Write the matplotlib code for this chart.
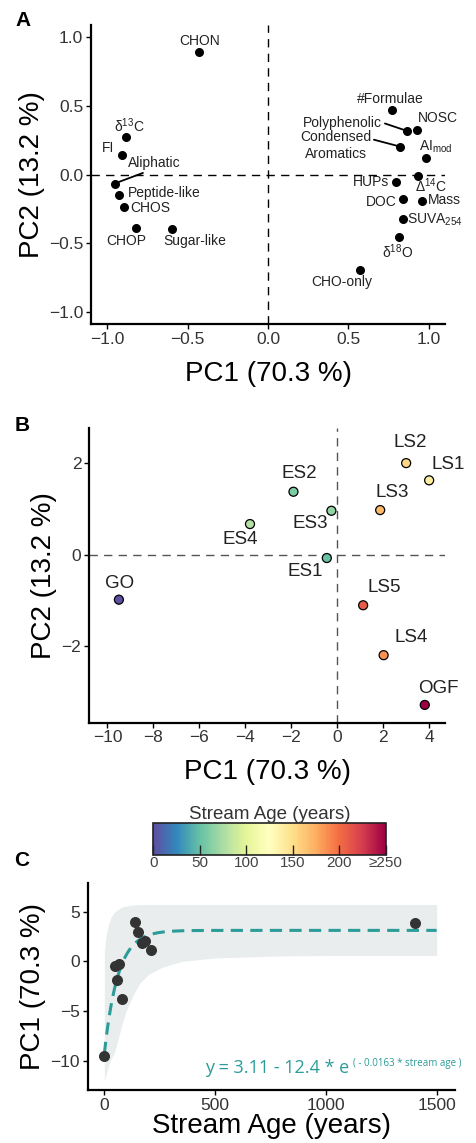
import numpy as np
import matplotlib
matplotlib.use("Agg")
import matplotlib.pyplot as plt
import matplotlib.colors as mcolors
import matplotlib.cm as cm

plt.rcParams['font.family'] = ['Liberation Sans', 'DejaVu Sans']
plt.rcParams['mathtext.fontset'] = 'custom'
plt.rcParams['mathtext.rm'] = 'Liberation Sans'
plt.rcParams['mathtext.it'] = 'Liberation Sans:italic'

# --- Panel A: variable loadings ---
var_names = ['CHON', '#Formulae', 'Polyphenolic', 'NOSC', 'Condensed\nAromatics', 'AI$_{\\mathrm{mod}}$',
             '\u0394$^{14}$C', 'HUPs', 'DOC', 'Mass', 'SUVA$_{254}$', '\u03b4$^{18}$O', 'CHO-only',
             '\u03b4$^{13}$C', 'FI', 'Aliphatic', 'Peptide-like', 'CHOS', 'CHOP', 'Sugar-like']
var_pc1 = [-0.43, 0.77, 0.864, 0.924, 0.82, 0.98, 0.93, 0.798, 0.837, 0.955, 0.84, 0.816, 0.573,
           -0.884, -0.907, -0.954, -0.923, -0.897, -0.82, -0.597]
var_pc2 = [0.89, 0.47, 0.318, 0.325, 0.204, 0.122, -0.012, -0.058, -0.175, -0.194, -0.325, -0.456, -0.695,
           0.277, 0.146, -0.066, -0.146, -0.238, -0.388, -0.396]

# where each label sits (data coords of text centre)
label_pos = [(-0.423, 0.97), (0.757, 0.55), (0.464, 0.379), (1.054, 0.411), (0.42, 0.21), (1.04, 0.204),
             (1.014, -0.08), (0.64, -0.058), (0.701, -0.199), (1.097, -0.189), (1.04, -0.33), (0.806, -0.566),
             (0.46, -0.784), (-0.86, 0.357), (-0.993, 0.197), (-0.705, 0.083), (-0.645, -0.136),
             (-0.732, -0.243), (-0.882, -0.481), (-0.458, -0.481)]
# labels joined to their point by a line: name -> (relpos on text box)
leader = {'Polyphenolic': (1.0, 0.5), 'Condensed\nAromatics': (1.0, 0.72), 'Aliphatic': (0.42, 0.0)}

# --- Panels B and C: sites ---
sites = ['GO', 'ES1', 'ES2', 'ES3', 'ES4', 'LS1', 'LS2', 'LS3', 'LS4', 'LS5', 'OGF']
site_age = [0, 50, 59, 66, 80, 139, 154, 169, 185, 209, 1402]
site_pc1 = [-9.5, -0.46, -1.91, -0.26, -3.8, 3.99, 2.99, 1.86, 2.01, 1.12, 3.8]
site_pc2 = [-0.985, -0.072, 1.38, 0.963, 0.672, 1.63, 2.007, 0.978, -2.2, -1.107, -3.29]
site_label_pos = [(-9.46, -0.62), (-1.39, -0.37), (-1.65, 1.79), (-1.16, 0.69), (-4.23, 0.33), (4.83, 1.98),
                  (3.19, 2.45), (2.37, 1.37), (3.19, -1.81), (2.04, -0.71), (4.37, -2.93)]

# exponential fit shown in panel C
fit_a = 3.11
fit_b = 12.4
fit_k = 0.0163

# confidence band
band_age = [0, 5, 10, 20, 30, 45, 60, 80, 100, 130, 160, 200, 260, 350, 500, 800, 1100, 1500]
band_upper = [1.0, 2.0, 2.8, 3.8, 4.4, 4.9, 5.2, 5.45, 5.55, 5.65, 5.7, 5.7, 5.7, 5.7, 5.7, 5.7, 5.7, 5.7]
band_lower = [-12.0, -11.6, -11.2, -10.4, -9.8, -9.2, -8.0, -6.3, -4.9, -3.4, -2.2, -1.3, -0.6, 0.0,
              0.35, 0.55, 0.6, 0.6]

tick_col = '#333333'
dash = (0, (6, 4.5))


def style_axes(ax):
    for s in ['top', 'right']:
        ax.spines[s].set_visible(False)
    for s in ['left', 'bottom']:
        ax.spines[s].set_linewidth(1.6)
    ax.tick_params(length=3.5, width=1, labelsize=12.5, colors='black', labelcolor=tick_col, pad=2)


fig = plt.figure(figsize=(4.76, 11.43), dpi=100)

# Panel A
axA = fig.add_axes([0.1912, 0.7165, 0.7437, 0.2616])
axA.axhline(0, color='black', lw=1, ls=dash, zorder=1)
axA.axvline(0, color='black', lw=1, ls=dash, zorder=1)
axA.scatter(var_pc1, var_pc2, s=30, color='black', zorder=3)
for name, x, y, (tx, ty) in zip(var_names, var_pc1, var_pc2, label_pos):
    if name in leader:
        axA.annotate(name, xy=(x, y), xytext=(tx, ty), ha='center', va='center', fontsize=10,
                     color='#222222', linespacing=1.25,
                     arrowprops=dict(arrowstyle='-', color='black', lw=1.3, relpos=leader[name],
                                     shrinkA=0, shrinkB=2))
    else:
        axA.text(tx, ty, name, ha='center', va='center', fontsize=10, color='#222222', clip_on=False)
axA.set_xlim(-1.1, 1.1)
axA.set_ylim(-1.09, 1.09)
axA.set_xticks([-1.0, -0.5, 0.0, 0.5, 1.0])
axA.set_yticks([-1.0, -0.5, 0.0, 0.5, 1.0])
style_axes(axA)
axA.set_xlabel('PC1 (70.3 %)', fontsize=20, labelpad=10)
axA.set_ylabel('PC2 (13.2 %)', fontsize=20, labelpad=3)

# Panel B
cmap = plt.get_cmap('Spectral_r')
norm = mcolors.Normalize(vmin=0, vmax=250)
axB = fig.add_axes([0.187, 0.3677, 0.7479, 0.2576])
axB.axhline(0, color='#555555', lw=1, ls=dash, zorder=1)
axB.axvline(0, color='#555555', lw=1, ls=dash, zorder=1)
axB.scatter(site_pc1, site_pc2, s=42, c=cmap(norm(np.minimum(site_age, 250))), edgecolors='black',
            linewidths=0.9, zorder=3)
for name, (tx, ty) in zip(sites, site_label_pos):
    axB.text(tx, ty, name, ha='center', va='center', fontsize=13.5, color='#222222', clip_on=False)
axB.set_xlim(-10.8, 4.68)
axB.set_ylim(-3.68, 2.77)
axB.set_xticks([-10, -8, -6, -4, -2, 0, 2, 4])
axB.set_yticks([-2, 0, 2])
style_axes(axB)
axB.set_xlabel('PC1 (70.3 %)', fontsize=20, labelpad=10)
axB.set_ylabel('PC2 (13.2 %)', fontsize=20, labelpad=3)

# colour bar for stream age
cax = fig.add_axes([0.322, 0.252, 0.488, 0.0277])
cb = fig.colorbar(cm.ScalarMappable(norm=norm, cmap=cmap), cax=cax, orientation='horizontal')
cb.set_ticks([0, 50, 100, 150, 200, 250])
cb.set_ticklabels(['0', '50', '100', '150', '200', '\u2265250'])
cb.outline.set_linewidth(1.2)
cb.outline.set_edgecolor('#222222')
cax.tick_params(direction='in', length=7, width=1, colors='#222222', labelcolor='#444444',
                labelsize=11, pad=1)
cax.set_title('Stream Age (years)', fontsize=13.5, color='#333333', pad=2)

# Panel C
axC = fig.add_axes([0.1842, 0.0464, 0.7717, 0.1814])
axC.fill_between(band_age, band_lower, band_upper, color='#e9eded', lw=0, zorder=1)
age_line = np.linspace(0, 1500, 400)
axC.plot(age_line, fit_a - fit_b * np.exp(-fit_k * age_line), color='#2b9c98', lw=2.2,
         ls=(0, (4, 2.4)), zorder=2)
axC.scatter(site_age, site_pc1, s=48, color='#333333', zorder=3)
axC.set_xlim(-75, 1583)
axC.set_ylim(-12.9, 7.9)
axC.set_xticks([0, 500, 1000, 1500])
axC.set_yticks([-10, -5, 0, 5])
style_axes(axC)
axC.set_xlabel('Stream Age (years)', fontsize=20, labelpad=0)
axC.set_ylabel('PC1 (70.3 %)', fontsize=20, labelpad=3)

eq = axC.text(454, -11.2, 'y = 3.11 - 12.4 * e', fontsize=13, color='#2b9c98',
              family=['Open Sans', 'DejaVu Sans'], va='baseline')
axC.annotate('( - 0.0163 * stream age )', xy=(1, 1), xycoords=eq, xytext=(3, 1),
             textcoords='offset points', fontsize=7, color='#2b9c98', va='top',
             family=['Open Sans', 'DejaVu Sans'], annotation_clip=False)

fig.text(23 / 476, 1 - 20 / 1143, 'A', fontsize=15, fontweight='bold', ha='center', va='center')
fig.text(22 / 476, 1 - 425 / 1143, 'B', fontsize=15, fontweight='bold', ha='center', va='center')
fig.text(22 / 476, 1 - 861 / 1143, 'C', fontsize=15, fontweight='bold', ha='center', va='center')

fig.savefig('out.png', dpi=100)
